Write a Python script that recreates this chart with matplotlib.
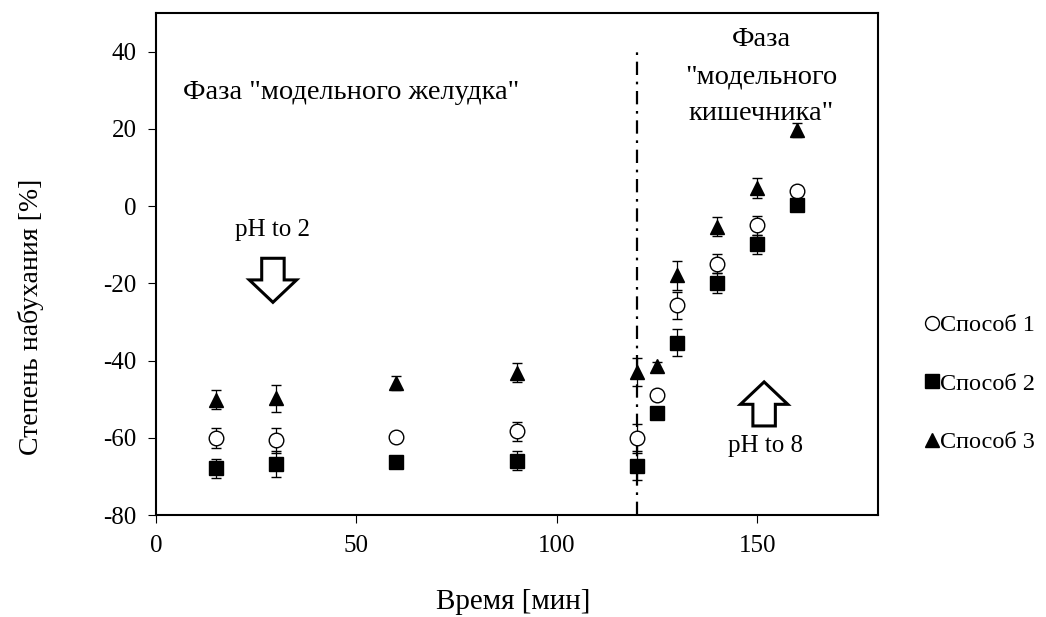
import numpy as np
import matplotlib
matplotlib.use("Agg")
import matplotlib.pyplot as plt
from matplotlib.patches import FancyArrow
from matplotlib.lines import Line2D

plt.rcParams['font.family'] = ['Liberation Serif', 'DejaVu Serif']
plt.rcParams['axes.unicode_minus'] = False

# sampling times, min
t = [15, 30, 60, 90, 120, 125, 130, 140, 150, 160]

# swelling degree, % (mean and sd) for the three methods
m1 = [-60.0, -60.6, -59.8, -58.3, -59.9, -49.0, -25.7, -14.9, -5.0, 4.0]
e1 = [2.5, 3.2, 0.0, 2.5, 3.6, 0.0, 3.5, 2.5, 2.5, 0.0]
m2 = [-67.9, -66.8, -66.2, -65.9, -67.3, -53.5, -35.4, -19.9, -9.9, 0.2]
e2 = [2.4, 3.4, 0.0, 2.5, 3.5, 0.0, 3.5, 2.5, 2.5, 0.0]
m3 = [-50.1, -49.7, -45.8, -43.1, -42.9, -41.4, -17.9, -5.3, 4.8, 19.7]
e3 = [2.5, 3.5, 1.8, 2.5, 3.7, 1.0, 3.7, 2.5, 2.6, 1.9]

labels = ['Способ 1', 'Способ 2', 'Способ 3']

fig = plt.figure(figsize=(10.46, 6.17), dpi=100)
ax = fig.add_axes([0.149, 0.165, 0.690, 0.814])

# phase boundary
ax.vlines(120, -80, 41, colors='black', linewidth=1.6,
          linestyles=(0, (6, 3, 1.2, 3)), zorder=1)

styles = [
    dict(marker='o', mfc='white', mec='black'),
    dict(marker='s', mfc='black', mec='black'),
    dict(marker='^', mfc='black', mec='black'),
]
handles = []
for y, e, st, lab in zip([m1, m2, m3], [e1, e2, e3], styles, labels):
    ax.errorbar(t, y, yerr=e, linestyle='none', ms=10.5, mew=1.0,
                ecolor='black', elinewidth=0.9, capsize=3.5, capthick=1.2,
                zorder=3, **st)
    handles.append(Line2D([], [], linestyle='none', ms=10, mew=1.0,
                          label=lab, **st))

ax.set_xlim(0, 180)
ax.set_ylim(-80, 50)
ax.set_xticks([0, 50, 100, 150])
ax.set_yticks([-80, -60, -40, -20, 0, 20, 40])
ax.tick_params(direction='out', length=6, width=0.8, labelsize=18,
               top=False, right=False, pad=8)
for sp in ax.spines.values():
    sp.set_linewidth(1.5)

ax.set_xlabel('Время [мин]', fontsize=21)
ax.xaxis.set_label_coords(0.495, -0.147)
ax.set_ylabel('Степень набухания [%]', fontsize=20)
ax.yaxis.set_label_coords(-0.155, 0.394)

ax.text(6.7, 29.5, 'Фаза "модельного желудка"', fontsize=20.5,
        ha='left', va='center')
ax.text(151, 33.5, 'Фаза\n"модельного\nкишечника"', fontsize=20.5,
        ha='center', va='center', linespacing=1.62)

ax.text(29, -6.3, 'pH to 2', fontsize=18, ha='center', va='center')
ax.text(152, -62, 'pH to 8', fontsize=18, ha='center', va='center')

# hollow block arrows
ax.add_patch(FancyArrow(29.2, -13.5, 0, -11.4, width=5.6, head_width=11.8,
                        head_length=5.8, length_includes_head=True,
                        facecolor='white', edgecolor='black', linewidth=2.2))
ax.add_patch(FancyArrow(151.7, -56.9, 0, 11.4, width=5.6, head_width=11.8,
                        head_length=5.8, length_includes_head=True,
                        facecolor='white', edgecolor='black', linewidth=2.2))

ax.legend(handles=handles, loc='center left', bbox_to_anchor=(1.053, 0.262),
          frameon=False, fontsize=17.5, handlelength=0.5, handletextpad=0.1,
          labelspacing=1.5, borderaxespad=0)

fig.savefig('out.png', dpi=100)
